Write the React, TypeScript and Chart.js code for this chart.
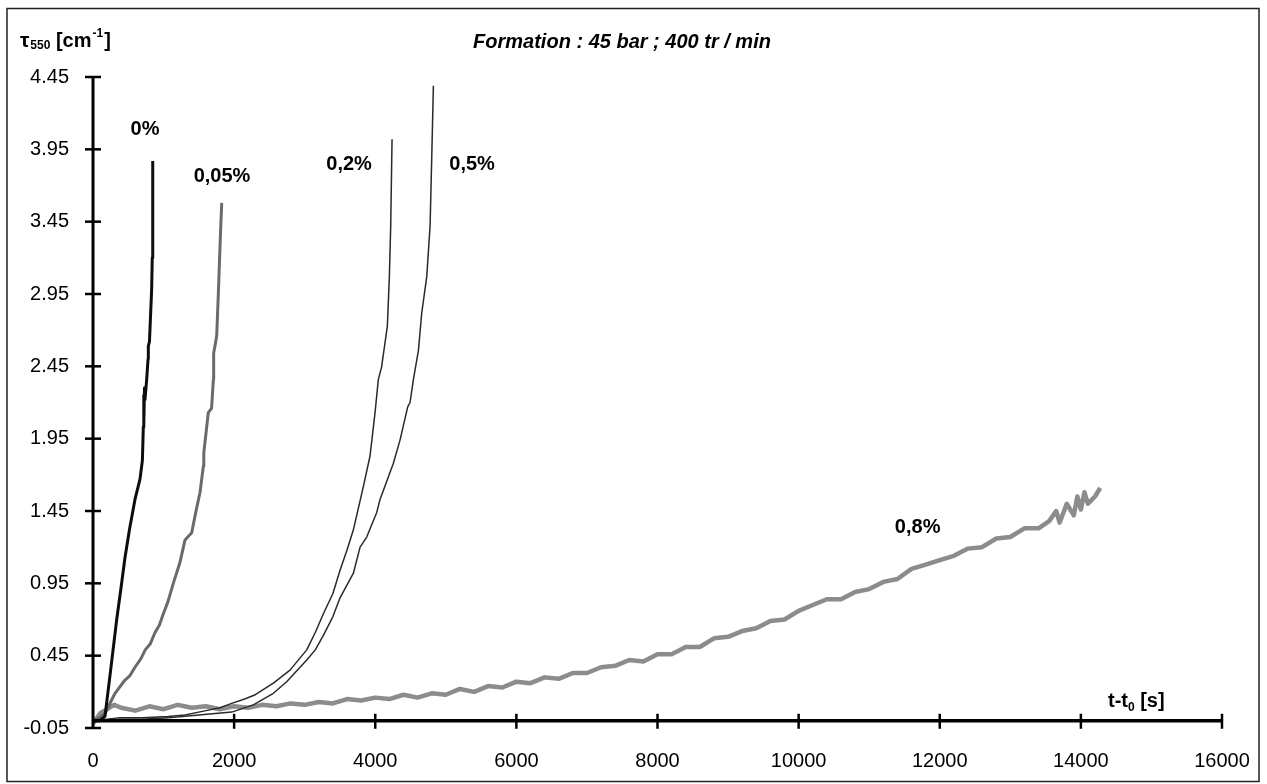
import React, { useEffect, useRef } from 'react';
import { Chart, registerables } from 'chart.js';

Chart.register(...registerables);

// Axis ticks
const xTicks = [0, 2000, 4000, 6000, 8000, 10000, 12000, 14000, 16000];
const yTicks = [-0.05, 0.45, 0.95, 1.45, 1.95, 2.45, 2.95, 3.45, 3.95, 4.45];

// Series: 0 %
const t0 = [0, 90, 170, 250, 336, 400, 454, 520, 595, 666, 700, 713, 722, 718, 730, 737, 761, 780, 784, 800, 831, 840, 845, 848];
const tau0 = [0, 0.0, 0.03, 0.35, 0.70, 0.93, 1.13, 1.33, 1.53, 1.67, 1.80, 2.03, 2.25, 2.06, 2.30, 2.22, 2.36, 2.50, 2.59, 2.62, 2.98, 3.20, 3.42, 3.87];

// Series: 0,05 %
const t005 = [0, 90, 170, 312, 450, 520, 595, 680, 740, 810, 879, 940, 997, 1060, 1138, 1230, 1304, 1399, 1460, 1517, 1564, 1570, 1634, 1680, 1706, 1710, 1753, 1777, 1800, 1824];
const tau005 = [0, 0.02, 0.05, 0.19, 0.28, 0.31, 0.37, 0.43, 0.49, 0.53, 0.61, 0.66, 0.74, 0.82, 0.95, 1.09, 1.25, 1.30, 1.45, 1.58, 1.76, 1.85, 2.13, 2.16, 2.36, 2.54, 2.66, 2.96, 3.28, 3.58];

// Series: 0,2 %
const t02 = [0, 359, 700, 1067, 1304, 1600, 1800, 1966, 2150, 2300, 2556, 2792, 3029, 3150, 3265, 3400, 3501, 3600, 3690, 3832, 3926, 3997, 4044, 4092, 4110, 4100, 4172, 4200, 4219, 4238];
const tau02 = [0, 0.02, 0.02, 0.03, 0.04, 0.07, 0.09, 0.12, 0.15, 0.18, 0.26, 0.35, 0.49, 0.61, 0.74, 0.88, 1.04, 1.18, 1.32, 1.62, 1.83, 2.13, 2.36, 2.45, 2.52, 2.48, 2.73, 3.07, 3.42, 4.02];

// Series: 0,5 %
const t05 = [0, 359, 700, 1067, 1500, 1966, 2272, 2556, 2745, 3029, 3150, 3265, 3400, 3501, 3690, 3785, 3879, 4021, 4068, 4257, 4351, 4460, 4493, 4541, 4612, 4659, 4730, 4777, 4800, 4824];
const tau05 = [0, 0.01, 0.01, 0.02, 0.04, 0.06, 0.11, 0.19, 0.27, 0.42, 0.49, 0.59, 0.72, 0.85, 1.02, 1.20, 1.27, 1.44, 1.53, 1.78, 1.94, 2.17, 2.20, 2.36, 2.56, 2.82, 3.07, 3.42, 3.88, 4.39];

// Series: 0,8 %
const t08 = [0, 100, 200, 300, 400, 600, 800, 1000, 1200, 1400, 1600, 1800, 2000, 2200, 2400, 2600, 2800, 3000, 3200, 3400, 3600, 3800, 4000, 4200, 4400, 4600, 4800, 5000, 5200, 5400, 5600, 5800, 6000, 6200, 6400, 6600, 6800, 7000, 7200, 7400, 7600, 7800, 8000, 8200, 8400, 8600, 8800, 9000, 9200, 9400, 9600, 9800, 10000, 10200, 10400, 10600, 10800, 11000, 11200, 11400, 11600, 11800, 12000, 12200, 12400, 12600, 12800, 13000, 13200, 13400, 13550, 13650, 13700, 13800, 13900, 13950, 14000, 14050, 14100, 14200, 14274];
const tau08 = [-0.02, 0.05, 0.08, 0.11, 0.09, 0.07, 0.10, 0.08, 0.11, 0.09, 0.10, 0.08, 0.10, 0.09, 0.11, 0.10, 0.12, 0.11, 0.13, 0.12, 0.15, 0.14, 0.16, 0.15, 0.18, 0.16, 0.19, 0.18, 0.22, 0.20, 0.24, 0.23, 0.27, 0.26, 0.30, 0.29, 0.33, 0.33, 0.37, 0.38, 0.42, 0.41, 0.46, 0.46, 0.51, 0.51, 0.57, 0.58, 0.62, 0.64, 0.69, 0.70, 0.76, 0.80, 0.84, 0.84, 0.89, 0.91, 0.96, 0.98, 1.05, 1.08, 1.11, 1.14, 1.19, 1.20, 1.26, 1.27, 1.33, 1.33, 1.38, 1.45, 1.37, 1.50, 1.42, 1.55, 1.46, 1.58, 1.50, 1.55, 1.61];

// Curve labels (text + anchor in data units)
const curveLabels = ['0%', '0,05%', '0,2%', '0,5%', '0,8%'];
const labelT = [737, 1828, 3629, 5372, 11687];
const labelTau = [4.086, 3.76, 3.843, 3.843, 1.333];

const titleText = 'Formation : 45 bar ; 400 tr / min';

const FONT = "'Liberation Sans', Arial, sans-serif";

function pts(xs: number[], ys: number[]) {
  return xs.map((x, i) => ({ x, y: ys[i] }));
}

const decorPlugin = {
  id: 'decor',
  afterDatasetsDraw(chart: any) {
    const { ctx, scales } = chart;
    const x = scales.x;
    const y = scales.y;
    ctx.save();
    ctx.strokeStyle = '#000';
    ctx.lineCap = 'butt';
    const x0 = x.getPixelForValue(0);
    const yTop = y.getPixelForValue(4.45);
    const yBot = y.getPixelForValue(-0.05);
    const yZero = y.getPixelForValue(0);
    const xEnd = x.getPixelForValue(16000);
    // y axis
    ctx.lineWidth = 3;
    ctx.beginPath();
    ctx.moveTo(x0, yTop - 1);
    ctx.lineTo(x0, yBot + 1);
    ctx.stroke();
    // x axis (crossing at 0)
    ctx.lineWidth = 3.5;
    ctx.beginPath();
    ctx.moveTo(x0, yZero);
    ctx.lineTo(xEnd, yZero);
    ctx.stroke();
    // tick marks
    ctx.lineWidth = 2.5;
    for (const v of yTicks) {
      const py = y.getPixelForValue(v);
      ctx.beginPath();
      ctx.moveTo(x0 - 8, py);
      ctx.lineTo(x0 + 8, py);
      ctx.stroke();
    }
    for (const v of xTicks) {
      if (v === 0) continue;
      const px = x.getPixelForValue(v);
      ctx.beginPath();
      ctx.moveTo(px, yZero - 7);
      ctx.lineTo(px, yZero + 8);
      ctx.stroke();
    }
    ctx.restore();
  },
  afterDraw(chart: any) {
    const { ctx, scales } = chart;
    const x = scales.x;
    const y = scales.y;
    ctx.save();
    // frame
    ctx.strokeStyle = '#222';
    ctx.lineWidth = 1.5;
    ctx.strokeRect(7, 8.5, 1252, 773);

    ctx.fillStyle = '#000';
    ctx.textBaseline = 'middle';
    // title
    ctx.font = `italic bold 20px ${FONT}`;
    ctx.textAlign = 'center';
    ctx.fillText(titleText, 622, 42);

    // curve labels
    ctx.font = `bold 20px ${FONT}`;
    curveLabels.forEach((s, i) => {
      ctx.fillText(s, x.getPixelForValue(labelT[i]), y.getPixelForValue(labelTau[i]));
    });

    // y-axis title: τ550 [cm-1]
    ctx.textAlign = 'left';
    ctx.textBaseline = 'alphabetic';
    let cx = 20;
    const base = 47;
    ctx.font = `bold 21px ${FONT}`;
    ctx.fillText('τ', cx, base);
    cx += ctx.measureText('τ').width + 1;
    ctx.font = `bold 12px ${FONT}`;
    ctx.fillText('550', cx, base + 2);
    cx += ctx.measureText('550').width;
    ctx.font = `bold 20px ${FONT}`;
    ctx.fillText(' [cm', cx, base);
    cx += ctx.measureText(' [cm').width + 1;
    ctx.font = `bold 12px ${FONT}`;
    ctx.fillText('-1', cx, base - 10);
    cx += ctx.measureText('-1').width + 1;
    ctx.font = `bold 20px ${FONT}`;
    ctx.fillText(']', cx, base);

    // x-axis title: t-t0 [s]
    let lx = 1108;
    const lb = 707;
    ctx.font = `bold 20px ${FONT}`;
    ctx.fillText('t-t', lx, lb);
    lx += ctx.measureText('t-t').width;
    ctx.font = `bold 12px ${FONT}`;
    ctx.fillText('0', lx, lb + 4);
    lx += ctx.measureText('0').width;
    ctx.font = `bold 20px ${FONT}`;
    ctx.fillText(' [s]', lx, lb);
    ctx.restore();
  },
};

export default function App() {
  const canvasRef = useRef<HTMLCanvasElement | null>(null);

  useEffect(() => {
    const canvas = canvasRef.current;
    if (!canvas) return;
    const chart = new Chart(canvas, {
      type: 'line',
      data: {
        datasets: [
          { label: curveLabels[0], data: pts(t0, tau0), borderColor: '#0d0d0d', borderWidth: 3 },
          { label: curveLabels[1], data: pts(t005, tau005), borderColor: '#6a6a6a', borderWidth: 3 },
          { label: curveLabels[2], data: pts(t02, tau02), borderColor: '#2a2a2a', borderWidth: 1.5 },
          { label: curveLabels[3], data: pts(t05, tau05), borderColor: '#2a2a2a', borderWidth: 1.5 },
          { label: curveLabels[4], data: pts(t08, tau08), borderColor: '#8c8c8c', borderWidth: 4.5 },
        ].map((d) => ({ ...d, pointRadius: 0, tension: 0, fill: false, borderJoinStyle: 'round' as const })),
      },
      options: {
        animation: false,
        responsive: false,
        devicePixelRatio: 1,
        layout: { padding: { top: 77, right: 45, bottom: 0, left: 0 } },
        plugins: { legend: { display: false }, tooltip: { enabled: false }, title: { display: false } },
        scales: {
          x: {
            type: 'linear',
            min: 0,
            max: 16000,
            grid: { display: false },
            border: { display: false },
            afterBuildTicks: (s: any) => {
              s.ticks = xTicks.map((v) => ({ value: v }));
            },
            afterFit: (s: any) => {
              s.height = 56;
            },
            ticks: {
              autoSkip: false,
              maxRotation: 0,
              color: '#000',
              padding: 13,
              font: { family: FONT, size: 20 },
              callback: (v: any) => String(v),
            },
          },
          y: {
            type: 'linear',
            min: -0.05,
            max: 4.45,
            grid: { display: false },
            border: { display: false },
            afterBuildTicks: (s: any) => {
              s.ticks = yTicks.map((v) => ({ value: v }));
            },
            afterFit: (s: any) => {
              s.width = 93;
            },
            ticks: {
              color: '#000',
              padding: 16,
              font: { family: FONT, size: 20 },
              callback: (v: any) => Number(v).toFixed(2),
            },
          },
        },
      },
      plugins: [decorPlugin],
    });
    return () => chart.destroy();
  }, []);

  return (
    <div style={{ position: 'absolute', left: 0, top: 0, width: 1267, height: 784, background: '#fff' }}>
      <canvas ref={canvasRef} width={1267} height={784} />
    </div>
  );
}
